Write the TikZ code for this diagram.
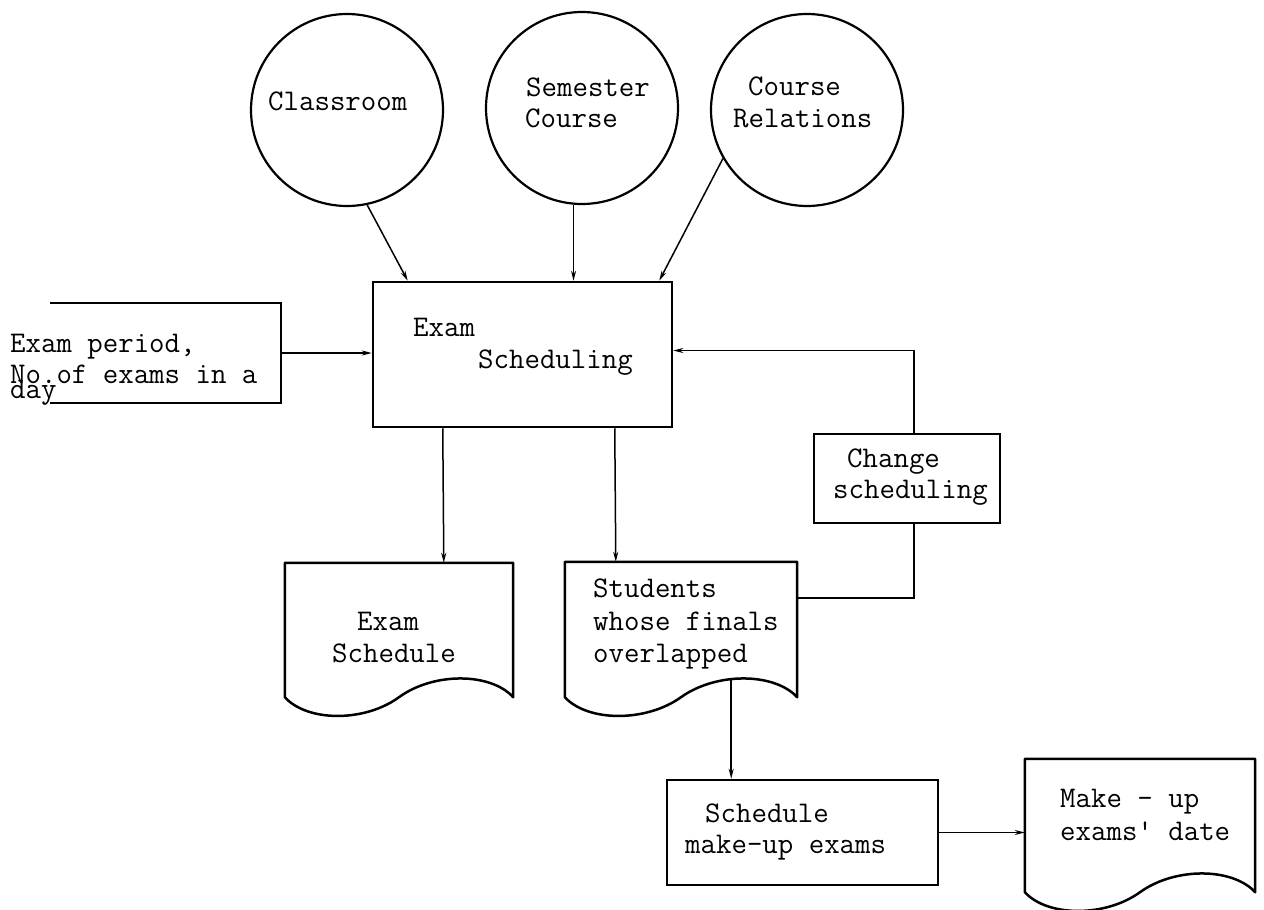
\documentclass[tikz,border=0pt]{standalone}
\usetikzlibrary{arrows.meta,calc}

% outline of a document symbol: straight top and sides, wavy bottom edge
\newcommand\drawdocument[1]{%
  \draw[outline, line join=round]
    (#1.south west) -- (#1.north west) -- (#1.north east) -- (#1.south east)
    .. controls ($(#1.south west)!0.9!(#1.south east)+(0,-25)$)
            and ($(#1.south west)!0.65!(#1.south east)+(0,-25)$)
    .. ($(#1.south west)!0.5!(#1.south east)$)
    .. controls ($(#1.south west)!0.35!(#1.south east)+(0,25)$)
            and ($(#1.south west)!0.1!(#1.south east)+(0,25)$)
    .. (#1.south west) -- cycle;}

\begin{document}
\begin{tikzpicture}[x=1pt,y=-1pt,
  outline/.style={draw, line width=2.5pt},
  frame/.style={rectangle, outline, inner sep=0pt},
  store/.style={circle, draw, line width=2.2pt, inner sep=0pt, minimum size=192pt},
  docarea/.style={rectangle, inner sep=0pt},
  conn/.style={line width=1.5pt},
  arr/.style={conn, -{Stealth[length=10pt,width=5pt]}},
  txt/.style={anchor=base west, inner sep=0pt, font=\ttfamily\fontsize{30}{32}\selectfont}]

\useasboundingbox (0,0) rectangle (1264,910);

% data stores
\node[store] (classroom) at (347,110) {};
\node[store] (semester)  at (582,108) {};
\node[store] (relations) at (807,110) {};
\node[txt] (t-class) at (268,110) {Classroom};
\node[txt] (t-sem1)  at (526,96)  {Semester};
\node[txt] (t-sem2)  at (525,127) {Course};
\node[txt] (t-rel1)  at (748,95)  {Course};
\node[txt] (t-rel2)  at (733,127) {Relations};

% processes
\node[frame, minimum width=299pt, minimum height=145pt] (exam) at (522.5,354.5) {};
\node[txt] (t-exam1) at (413,336) {Exam};
\node[txt] (t-exam2) at (478,368) {Scheduling};

\node[frame, minimum width=186pt, minimum height=89pt] (changebox) at (907,478.5) {};
\node[txt] (t-ch1) at (847,467) {Change};
\node[txt] (t-ch2) at (833,498) {scheduling};

\node[frame, minimum width=271pt, minimum height=105pt] (makeupbox) at (802.5,832.5) {};
\node[txt] (t-mb1) at (705,822) {Schedule};
\node[txt] (t-mb2) at (685,853) {make-up exams};

% input parameters (open on the left)
\node[docarea, minimum width=231pt, minimum height=100pt] (inbox) at (165.5,353) {};
\draw[outline] (inbox.north west) -- (inbox.north east) -- (inbox.south east) -- (inbox.south west);
\node[txt] (t-in1) at (10,352) {Exam period,};
\node[txt] (t-in2) at (10,383) {No.of exams in a};
\node[txt] (t-in3) at (10,398) {day};

% printed outputs
\node[docarea, minimum width=228pt, minimum height=134pt] (exsched) at (399,630) {};
\drawdocument{exsched}
\node[txt] (t-es1) at (357,630) {Exam};
\node[txt] (t-es2) at (332,662) {Schedule};

\node[docarea, minimum width=232pt, minimum height=135pt] (students) at (681,629.5) {};
\drawdocument{students}
\node[txt] (t-st1) at (593,597) {Students};
\node[txt] (t-st2) at (593,630) {whose finals};
\node[txt] (t-st3) at (593,662) {overlapped};

\node[docarea, minimum width=230pt, minimum height=133pt] (makeupdoc) at (1140,825.5) {};
\drawdocument{makeupdoc}
\node[txt] (t-md1) at (1060,807) {Make - up};
\node[txt] (t-md2) at (1060,840) {exams' date};

% data flows
\draw[arr] (classroom.282) -- ($(exam.north west)+(36,0)$);
\draw[arr] (semester.265) -- (semester.265 |- exam.north);
\draw[arr] (relations.210) -- ($(exam.north east)+(-14,0)$);
\draw[arr] (inbox.east) -- (inbox.east -| exam.west);

\draw[arr] ($(exam.south west)+(71,0)$) -- ($(exsched.north west)+(159,0)$);
\draw[arr] ($(exam.south west)+(243,0)$) -- ($(students.north west)+(51,0)$);

\coordinate (crest) at ($(students.south west)!0.716!(students.south east)+(0,-18)$);
\draw[arr] (crest) -- (crest |- makeupbox.north);
\draw[arr] (makeupbox.east) -- (makeupbox.east -| makeupdoc.west);

% feedback loop through the change step
\draw[conn] ($(students.north east)+(0,36)$) -| ($(changebox.south)+(7,0)$);
\draw[arr] ($(changebox.north)+(7,0)$) |- ($(exam.east)+(0,-4)$);

\end{tikzpicture}
\end{document}
